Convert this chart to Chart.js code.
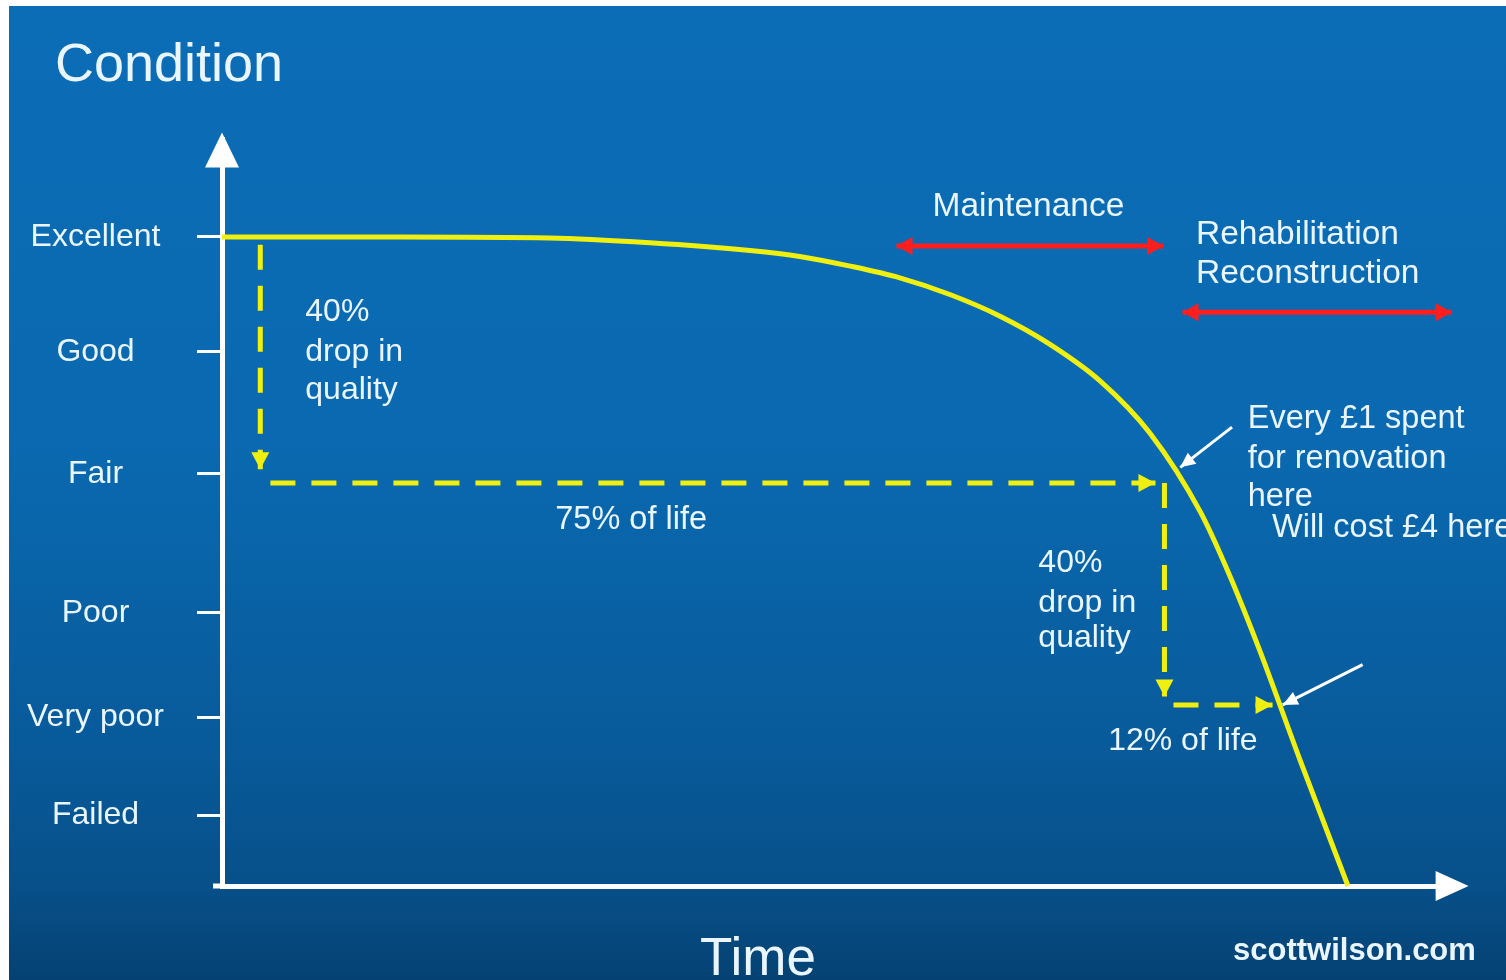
<!DOCTYPE html>
<html>
<head>
<meta charset="utf-8">
<script src="https://cdn.jsdelivr.net/npm/chart.js@4.4.1/dist/chart.umd.min.js"></script>
<style>
  html, body { margin: 0; padding: 0; background: #ffffff; width: 1506px; height: 980px; overflow: hidden; }
  #frame { position: absolute; left: 9px; top: 6px; width: 1497px; height: 974px; }
</style>
</head>
<body>
<div id="frame"><canvas id="c"></canvas></div>
<script>
// Condition scale (Excellent = 100, axis runs 0..115)
const conditionLabels = ['Excellent', 'Good', 'Fair', 'Poor', 'Very poor', 'Failed'];
const conditionLevels = [100, 82.3, 63.5, 42.1, 26.0, 10.9];

// Deterioration curve: time (% of service life) against condition
const lifeTime        = [0, 15.8, 29.1, 38.0, 46.9, 51.3, 55.8, 60.2, 64.7, 69.1, 73.5, 78.0, 82.4, 86.9, 89.5, 92.2, 95.7, 100];
const conditionValues = [100, 100, 99.85, 99.1, 97.9, 97.0, 95.5, 93.7, 91.1, 87.8, 83.5, 77.8, 69.8, 57.6, 47.8, 36.1, 19.6, 0];

// Dashed guides: first 40% drop over 75% of life, second 40% drop over 12% of life
const earlyDropTime = [3.4, 3.4];    const earlyDropCond = [98.8, 64.2];
const earlyLifeTime = [4.3, 82.9];   const earlyLifeCond = [62.1, 62.1];
const lateDropTime  = [83.7, 83.7];  const lateDropCond  = [62.1, 29.2];
const lateLifeTime  = [84.5, 93.3];  const lateLifeCond  = [27.9, 27.9];

// Intervention ranges
const maintenanceTime = [59.9, 83.6];  const maintenanceCond = [98.6, 98.6];
const rehabTime       = [85.3, 109.2]; const rehabCond       = [88.4, 88.4];

// Cost pointers (tail -> tip)
const pointerOneTime = [89.7, 85.1];  const pointerOneCond = [70.7, 64.5];
const pointerTwoTime = [101.3, 94.2]; const pointerTwoCond = [34.1, 27.9];

const toXY = (xs, ys) => xs.map((x, i) => ({ x, y: ys[i] }));

const WHITE = '#eaf6ff';
const YELLOW = '#f0f010';
const RED = '#ff1e1e';
const FONT = "'Liberation Sans', Arial, Helvetica, sans-serif";

function dashed(xs, ys) {
  return { data: toXY(xs, ys), borderColor: YELLOW, borderWidth: 5, borderDash: [25, 16],
           pointRadius: 0, clip: false, order: 1, arrow: 'end', headColor: YELLOW, headLen: 17, headHalf: 9 };
}

function range(xs, ys) {
  return { data: toXY(xs, ys), borderColor: RED, borderWidth: 5, pointRadius: 0,
           clip: false, order: 1, arrow: 'both', headColor: RED, headLen: 16, headHalf: 9 };
}

function pointer(xs, ys) {
  return { data: toXY(xs, ys), borderColor: '#ffffff', borderWidth: 3, pointRadius: 0,
           clip: false, order: 1, arrow: 'end', headColor: '#ffffff', headLen: 15, headHalf: 7 };
}

const datasets = [
  { data: toXY(lifeTime, conditionValues), borderColor: YELLOW, borderWidth: 5, pointRadius: 0,
    cubicInterpolationMode: 'monotone', clip: false, order: 0 },
  dashed(earlyDropTime, earlyDropCond),
  dashed(earlyLifeTime, earlyLifeCond),
  dashed(lateDropTime, lateDropCond),
  dashed(lateLifeTime, lateLifeCond),
  range(maintenanceTime, maintenanceCond),
  range(rehabTime, rehabCond),
  pointer(pointerOneTime, pointerOneCond),
  pointer(pointerTwoTime, pointerTwoCond)
];

// Free text placed in data space: [text, time, condition, font size]
const notes = [
  ['40%', 7.4, 88.4, 32], ['drop in', 7.4, 82.3, 32], ['quality', 7.4, 76.4, 32],
  ['75% of life', 29.6, 56.4, 32.5],
  ['Maintenance', 63.1, 104.6, 33.5],
  ['Rehabilitation', 86.5, 100.4, 33.5], ['Reconstruction', 86.5, 94.3, 33.5],
  ['Every £1 spent', 91.1, 72.0, 32.5], ['for renovation', 91.1, 65.8, 32.5], ['here', 91.1, 60.0, 32.5],
  ['Will cost £4 here', 93.25, 55.2, 32.5],
  ['40%', 72.5, 49.7, 32], ['drop in', 72.5, 43.6, 32], ['quality', 72.5, 38.2, 32],
  ['12% of life', 78.7, 22.3, 32]
];

const backdrop = {
  id: 'backdrop',
  beforeDraw(chart) {
    const { ctx, width, height } = chart;
    const g = ctx.createLinearGradient(0, 0, 0, height);
    g.addColorStop(0, '#0b6db6');
    g.addColorStop(0.45, '#0a69b0');
    g.addColorStop(0.75, '#085b9b');
    g.addColorStop(0.9, '#07508a');
    g.addColorStop(1, '#054273');
    ctx.save();
    ctx.fillStyle = g;
    ctx.fillRect(0, 0, width, height);
    ctx.restore();
  }
};

function head(ctx, fx, fy, tx, ty, len, half, color) {
  const a = Math.atan2(ty - fy, tx - fx);
  const bx = tx - Math.cos(a) * len, by = ty - Math.sin(a) * len;
  ctx.beginPath();
  ctx.moveTo(tx, ty);
  ctx.lineTo(bx + Math.sin(a) * half, by - Math.cos(a) * half);
  ctx.lineTo(bx - Math.sin(a) * half, by + Math.cos(a) * half);
  ctx.closePath();
  ctx.fillStyle = color;
  ctx.fill();
}

const decorations = {
  id: 'decorations',
  afterDatasetsDraw(chart) {
    const { ctx } = chart;
    ctx.save();
    chart.data.datasets.forEach((ds, i) => {
      if (!ds.arrow) return;
      const pts = chart.getDatasetMeta(i).data;
      const a = pts[0], b = pts[pts.length - 1];
      head(ctx, a.x, a.y, b.x, b.y, ds.headLen, ds.headHalf, ds.headColor);
      if (ds.arrow === 'both') head(ctx, b.x, b.y, a.x, a.y, ds.headLen, ds.headHalf, ds.headColor);
    });
    ctx.restore();
  },
  afterDraw(chart) {
    const { ctx, chartArea: ca, scales } = chart;
    ctx.save();
    // axis arrowheads and the short run of the time axis left of the origin
    ctx.fillStyle = '#ffffff';
    ctx.fillRect(ca.left - 9, ca.bottom - 2.5, 9, 5);
    ctx.beginPath();
    ctx.moveTo(ca.left, ca.top - 7);
    ctx.lineTo(ca.left - 17, ca.top + 28);
    ctx.lineTo(ca.left + 17, ca.top + 28);
    ctx.closePath();
    ctx.fill();
    ctx.beginPath();
    ctx.moveTo(ca.right + 8, ca.bottom);
    ctx.lineTo(ca.right - 25, ca.bottom - 15);
    ctx.lineTo(ca.right - 25, ca.bottom + 15);
    ctx.closePath();
    ctx.fill();

    // annotations
    ctx.fillStyle = WHITE;
    ctx.textBaseline = 'middle';
    ctx.textAlign = 'left';
    notes.forEach(([t, x, y, size]) => {
      ctx.font = `${size}px ${FONT}`;
      ctx.fillText(t, scales.x.getPixelForValue(x), scales.y.getPixelForValue(y));
    });

    // headings
    ctx.font = `54px ${FONT}`;
    ctx.fillText('Condition', 46, 60);
    ctx.textAlign = 'center';
    ctx.font = `53px ${FONT}`;
    ctx.fillText('Time', 749, 954);
    ctx.textAlign = 'left';
    ctx.font = `bold 31px ${FONT}`;
    ctx.fillText('scottwilson.com', 1224, 945);
    ctx.restore();
  }
};

new Chart(document.getElementById('c'), {
  type: 'line',
  data: { datasets },
  plugins: [backdrop, decorations],
  options: {
    responsive: true,
    maintainAspectRatio: false,
    animation: false,
    events: [],
    layout: { padding: { top: 133.6, right: 45.4, bottom: 0, left: 0 } },
    plugins: { legend: { display: false }, tooltip: { enabled: false } },
    scales: {
      x: {
        type: 'linear', min: 0, max: 110,
        ticks: { display: false },
        grid: { display: false },
        border: { display: true, color: '#ffffff', width: 5 },
        afterFit: s => { s.height = 94; }
      },
      y: {
        type: 'linear', min: 0, max: 115,
        afterBuildTicks: s => { s.ticks = conditionLevels.map(v => ({ value: v })); },
        ticks: {
          autoSkip: false,
          callback: (v, i) => conditionLabels[i],
          color: WHITE,
          font: { family: FONT, size: 32 },
          crossAlign: 'center',
          padding: 33
        },
        grid: { drawOnChartArea: false, drawTicks: true, tickLength: 25, tickColor: '#ffffff', tickWidth: 3 },
        border: { display: true, color: '#ffffff', width: 5 },
        afterFit: s => { s.width = 213; }
      }
    }
  }
});
</script>
</body>
</html>
